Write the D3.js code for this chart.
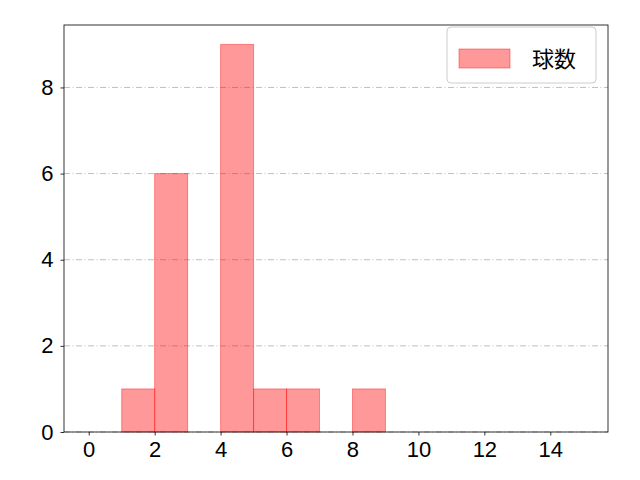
<!DOCTYPE html>
<html>
<head>
<meta charset="utf-8">
<script src="https://cdn.jsdelivr.net/npm/d3@7"></script>
<style>
  body { margin: 0; background: #fff; }
  text { font-family: "Noto Sans CJK JP", "DejaVu Sans", sans-serif; }
</style>
</head>
<body>
<div id="chart-area"></div>
<script>
// histogram bins (left edge, right edge) and counts
var binStarts = [1, 2, 4, 5, 6, 8];
var binWidth = 1;
var counts = [1, 6, 9, 1, 1, 1];
var xTicks = [0, 2, 4, 6, 8, 10, 12, 14];
var yTicks = [0, 2, 4, 6, 8];
var seriesName = "球数";

var margins = { left: 64, right: 32, top: 25, bottom: 48 };
var width = 640 - margins.left - margins.right;
var height = 480 - margins.top - margins.bottom;

var svg = d3.select("#chart-area").append("svg")
    .attr("width", 640).attr("height", 480);
var g = svg.append("g")
    .attr("transform", "translate(" + margins.left + "," + margins.top + ")");

var x = d3.scaleLinear().domain([-0.75, 15.75]).range([0, width]);
var y = d3.scaleLinear().domain([0, 9.45]).range([height, 0]);

// grid
g.selectAll(".grid").data(yTicks).enter().append("line")
    .attr("x1", 0).attr("x2", width)
    .attr("y1", function(d){ return y(d); })
    .attr("y2", function(d){ return y(d); })
    .attr("stroke", "#b0b0b0").attr("stroke-width", 0.8)
    .attr("stroke-dasharray", "6,2.5,1,2.5");

// bars
g.selectAll("rect.bar").data(counts).enter().append("rect")
    .attr("class", "bar")
    .attr("x", function(d, i){ return x(binStarts[i]); })
    .attr("width", function(d, i){ return x(binStarts[i] + binWidth) - x(binStarts[i]); })
    .attr("y", function(d){ return y(d); })
    .attr("height", function(d){ return height - y(d); })
    .attr("fill", "red").attr("fill-opacity", 0.4)
    .attr("stroke", "red").attr("stroke-opacity", 0.4).attr("stroke-width", 1);

// axes
var xAxis = g.append("g").attr("transform", "translate(0," + height + ")")
    .call(d3.axisBottom(x).tickValues(xTicks).tickSize(3.5).tickPadding(6));
var yAxis = g.append("g")
    .call(d3.axisLeft(y).tickValues(yTicks).tickSize(3.5).tickPadding(7));
[xAxis, yAxis].forEach(function(a){
    a.attr("font-size", null).attr("font-family", null);
    a.select(".domain").remove();
    a.selectAll("line").attr("stroke", "#000").attr("stroke-width", 0.8);
    a.selectAll("text").attr("fill", "#000")
        .style("font-size", "22px")
        .style("font-family", '"Liberation Sans", Arial, sans-serif');
});

// frame
g.append("rect").attr("width", width).attr("height", height)
    .attr("fill", "none").attr("stroke", "#000").attr("stroke-width", 0.8);

// legend
var lg = g.append("g").attr("transform", "translate(" + (width - 161) + ",2)");
lg.append("rect").attr("width", 149).attr("height", 56).attr("rx", 4)
    .attr("fill", "#fff").attr("fill-opacity", 0.8)
    .attr("stroke", "#cccccc").attr("stroke-width", 1);
lg.append("rect").attr("x", 12).attr("y", 22).attr("width", 51).attr("height", 19)
    .attr("fill", "red").attr("fill-opacity", 0.4)
    .attr("stroke", "red").attr("stroke-opacity", 0.4);
lg.append("text").attr("x", 85).attr("y", 40)
    .style("font-size", "22px").attr("fill", "#000").text(seriesName);
</script>
</body>
</html>
